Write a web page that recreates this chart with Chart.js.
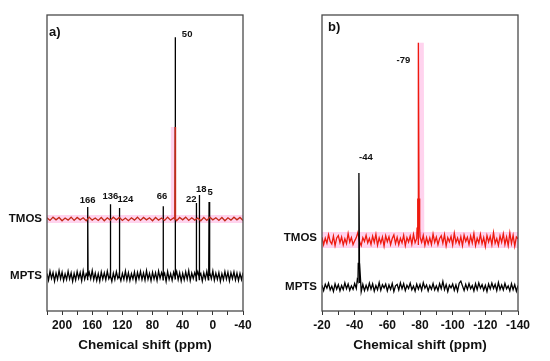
<!DOCTYPE html>
<html lang="en">
<head>
<meta charset="UTF-8">
<title>13C and 29Si NMR spectra</title>
<script src="https://cdn.jsdelivr.net/npm/chart.js"></script>
<style>
  html, body { margin: 0; padding: 0; background: #fff; }
  #wrap { position: relative; width: 550px; height: 361px; }
  canvas { position: absolute; top: 0; }
  #chartA { left: 0; }
  #chartB { left: 275px; }
</style>
</head>
<body>
<div id="wrap">
  <canvas id="chartA" width="275" height="361"></canvas>
  <canvas id="chartB" width="275" height="361"></canvas>
</div>
<script>
// ---------- panel a) : 13C ----------
const aRange = [-40, 220];
const aTickLabels = [200, 160, 120, 80, 40, 0, -40];
const aMptsBase = 11.8, aTmosBase = 31.1;
// MPTS baseline noise, 220 -> -40 ppm every 2 ppm
const aMptsNoise = [
  0.9,-1.4,1.6,-0.8,1.2,-1.7,1.0,-1.1,1.8,-0.9,
  1.3,-1.5,0.7,-1.2,1.6,-1.0,1.1,-1.8,0.9,-1.3,
  1.5,-0.8,1.2,-1.6,1.7,-1.1,0.8,-1.4,1.3,-0.9,
  1.9,-1.2,1.0,-1.5,0.8,-1.7,1.4,-1.0,1.1,-1.3,
  1.6,-0.9,1.2,-1.8,1.0,-1.2,1.5,-0.8,1.3,-1.6,
  0.9,-1.1,1.7,-1.3,1.1,-1.5,0.8,-1.0,1.4,-1.7,
  1.2,-0.9,1.6,-1.2,1.0,-1.4,1.8,-1.1,0.9,-1.6,
  1.3,-1.0,1.1,-1.5,1.7,-0.8,1.2,-1.3,1.0,-1.8,
  1.5,-1.1,0.8,-1.4,1.3,-0.9,1.6,-1.2,1.1,-1.7,
  0.9,-1.3,1.4,-1.0,1.8,-1.5,1.0,-0.8,1.2,-1.6,
  1.5,-1.2,0.9,-1.7,1.1,-1.0,1.6,-1.3,1.3,-0.9,
  1.7,-1.4,1.0,-1.1,1.2,-1.8,0.8,-1.2,1.5,-1.0,
  1.3,-1.6,1.1,-0.9,1.4,-1.3,1.0,-1.5,0.9,-1.2,
  1.2
];
// TMOS baseline noise, 220 -> -40 ppm every 4 ppm
const aTmosNoise = [
  0.4,-0.5,0.6,-0.3,0.5,-0.6,0.3,-0.4,0.6,-0.5,
  0.5,-0.3,0.4,-0.6,0.6,-0.4,0.3,-0.5,0.5,-0.6,
  0.4,-0.4,0.6,-0.3,0.5,-0.5,0.3,-0.6,0.4,-0.4,
  0.6,-0.5,0.5,-0.3,0.4,-0.6,0.5,-0.4,0.3,-0.5,
  0.6,-0.4,0.4,-0.6,0.5,-0.3,0.6,-0.5,0.4,-0.4,
  0.3,-0.6,0.5,-0.5,0.6,-0.3,0.4,-0.5,0.5,-0.6,
  0.4,-0.4,0.6,-0.3,0.5,-0.5
];
const aMptsPeakShift = [166, 136, 124, 66, 50, 22, 18, 5];
const aMptsPeakHeight = [23.3, 24.3, 23.0, 23.6, 80.7, 24.7, 27.4, 25.0];
const aMptsPeakLabels = ['166', '136', '124', '66', '50', '22', '18', '5'];
const aTmosPeakShift = [50];
const aTmosPeakHeight = [31.1];

// ---------- panel b) : 29Si ----------
const bRange = [-140, -20];
const bTickLabels = [-20, -40, -60, -80, -100, -120, -140];
const bMptsBase = 8.1, bTmosBase = 24.0;
// TMOS noise, -20 -> -140 ppm every 1 ppm
const bTmosNoise = [
  0.9,-1.6,0.6,-1.1,1.8,-0.5,-1.4,1.3,-1.9,0.7,
  1.5,-0.9,1.0,-1.7,0.4,-1.2,2.2,-0.7,0.8,-1.6,
  -0.3,0.8,2.6,-0.6,-1.9,0.8,-0.5,1.6,-1.0,0.5,
  -1.5,1.3,-0.8,1.9,-1.8,0.7,-1.1,1.0,-2.1,1.4,
  -0.6,1.1,-1.6,0.5,1.7,-1.2,0.9,-1.6,0.6,-1.0,
  1.6,-1.9,0.8,-0.7,1.3,-1.4,1.9,-0.9,0.5,-1.7,
  1.0,-0.8,1.5,-1.8,0.8,-1.3,0.7,-1.5,2.0,-0.8,
  1.0,-1.6,0.5,1.4,-1.1,1.8,-2.0,0.8,-0.6,1.2,
  -1.7,2.3,-0.9,0.7,-1.4,1.1,-1.9,1.6,-0.5,0.9,
  -1.5,1.3,-1.0,2.2,-1.9,0.6,-1.0,1.9,-1.3,0.8,
  -2.2,1.5,-0.7,1.2,-1.6,2.5,-1.1,0.5,-1.8,1.4,
  -0.8,2.1,-1.5,1.0,-1.9,2.4,-1.2,1.6,-2.1,1.0,
  0.4
];
// MPTS noise, -20 -> -140 ppm every 1 ppm
const bMptsNoise = [
  0.6,-1.2,0.9,-0.4,1.3,-1.0,0.3,-1.5,1.1,-0.7,
  0.8,-1.3,0.5,-0.9,1.4,-0.6,1.0,-1.1,0.4,-0.8,
  1.2,-0.5,2.0,1.4,-1.6,0.9,-1.2,0.6,-1.0,1.3,
  -0.7,1.1,-1.4,0.5,-0.9,1.5,-1.1,0.8,-0.3,1.0,
  -1.3,0.7,-0.8,1.2,-1.5,0.4,0.9,-1.0,1.4,-0.6,
  1.1,-1.2,0.6,-0.5,1.3,-0.9,0.3,-1.4,1.0,-0.7,
  0.9,-1.1,1.5,-0.4,0.7,-1.3,0.5,-0.8,1.2,-1.0,
  0.4,-1.2,1.1,-0.6,1.9,-0.9,0.8,-1.5,0.6,-0.3,
  1.0,-1.1,0.7,-1.4,1.3,2.0,0.4,-1.2,0.9,-0.8,
  1.2,-0.6,0.5,-1.3,1.1,-0.9,1.4,-0.4,0.8,-1.1,
  0.6,-1.5,1.0,-0.7,1.3,-0.5,0.9,-1.2,1.5,-0.8,
  0.7,-1.0,1.2,-0.6,0.4,-1.3,1.1,-0.9,0.8,-1.4,
  0.5
];
const bMptsPeakShift = [-41.6, -42.2, -42.6, -43.0, -43.6];
const bMptsPeakHeight = [2.5, 8, 38.5, 8, 2.5];
const bTmosPeakShift = [-78.2, -78.6, -79.0, -79.4, -79.8];
const bTmosPeakHeight = [4, 14, 66.6, 14, 4];

const FONT = '"Liberation Sans", Arial, sans-serif';
const GLOW = 'rgba(255,150,215,0.42)';
Chart.defaults.font.family = FONT;

// noise samples on a regular grid plus the peak points, sorted along the axis;
// foot > 0 adds baseline points right beside each peak so it stays a thin line
function trace(start, step, noise, base, peakX, peakH, foot) {
  const pts = noise.map((v, i) => ({ x: start - i * step, y: base + v }));
  peakX.forEach((p, i) => {
    pts.push({ x: p, y: base + peakH[i] });
    if (foot) pts.push({ x: p + foot, y: base }, { x: p - foot, y: base });
  });
  return pts.sort((p, q) => q.x - p.x);
}
// clean baseline for the pink highlight band
function band(range, base) {
  return [{ x: range[1], y: base }, { x: range[0], y: base }];
}
// highlight around one peak: base, top, base
function spike(x, w, base, h) {
  return [{ x: x + w, y: base }, { x: x, y: base + h }, { x: x - w, y: base }];
}

// frame, panel letter, row names and peak labels
const decor = {
  id: 'decor',
  afterDatasetsDraw(chart, args, opts) {
    const { ctx, chartArea: ca, scales: { x, y } } = chart;
    ctx.save();
    ctx.strokeStyle = '#4a4a4a';
    ctx.lineWidth = 1.3;
    ctx.strokeRect(ca.left, ca.top, ca.right - ca.left, ca.bottom - ca.top);
    ctx.fillStyle = '#111';
    ctx.textBaseline = 'middle';
    ctx.font = 'bold 13px ' + FONT;
    ctx.textAlign = 'left';
    ctx.fillText(opts.panel.text, ca.left + opts.panel.dx, ca.top + opts.panel.dy);
    ctx.font = 'bold 11.5px ' + FONT;
    ctx.textAlign = 'right';
    opts.rows.forEach(r => ctx.fillText(r.name, ca.left - 5, y.getPixelForValue(r.base) + (r.dy || 0)));
    ctx.font = 'bold 9.5px ' + FONT;
    ctx.textAlign = 'center';
    opts.peaks.forEach(p => ctx.fillText(p.text, x.getPixelForValue(p.x) + p.dx, y.getPixelForValue(p.y) + p.dy));
    ctx.restore();
  }
};

function makeChart(id, range, step, labels, datasets, decorOpts) {
  return new Chart(document.getElementById(id), {
    type: 'scatter',
    data: { datasets },
    options: {
      responsive: false,
      animation: false,
      devicePixelRatio: 1,
      layout: { padding: { left: 47, right: 32, top: 15, bottom: 0 } },
      plugins: { legend: { display: false }, tooltip: { enabled: false }, decor: decorOpts },
      elements: { point: { radius: 0 }, line: { tension: 0 } },
      scales: {
        x: {
          type: 'linear', reverse: true, min: range[0], max: range[1],
          afterFit: s => { s.height = 50; },
          grid: { drawOnChartArea: false, drawTicks: true, tickLength: 4, color: '#333' },
          border: { display: false },
          ticks: {
            stepSize: step, autoSkip: false, maxRotation: 0, padding: 3,
            color: '#111', font: { size: 12, weight: 'bold' },
            callback: v => labels.includes(v) ? String(v) : ''
          },
          title: {
            display: true, text: 'Chemical shift (ppm)', color: '#111',
            font: { size: 13.5, weight: 'bold' }, padding: { top: 2, bottom: 8 }
          }
        },
        y: { display: false, min: 0, max: 100 }
      }
    },
    plugins: [decor]
  });
}

const aMpts = trace(220, 2, aMptsNoise, aMptsBase, aMptsPeakShift, aMptsPeakHeight, 0.5);
const aTmos = trace(220, 4, aTmosNoise, aTmosBase, aTmosPeakShift, aTmosPeakHeight, 0.5);
const aLabelOffsets = [[0, -7], [0, -8], [6, -9], [-1, -10], [12, -3], [-5, -4], [2, -6], [1, -10]];
makeChart('chartA', aRange, 20, aTickLabels, [
  { data: aTmos, showLine: true, borderColor: '#c42a18', borderWidth: 1.3, order: 1 },
  { data: aMpts, showLine: true, borderColor: '#000', borderWidth: 1.3, order: 2 },
  { data: band(aRange, aTmosBase), showLine: true, borderColor: GLOW, borderWidth: 8, order: 3 },
  { data: spike(aTmosPeakShift[0] + 2.5, 0.3, aTmosBase, aTmosPeakHeight[0]), showLine: true,
    borderColor: GLOW, borderWidth: 5, borderCapStyle: 'butt', order: 4 }
], {
  panel: { text: 'a)', dx: 2, dy: 17 },
  rows: [{ name: 'TMOS', base: aTmosBase }, { name: 'MPTS', base: aMptsBase }],
  peaks: aMptsPeakShift.map((p, i) => ({
    text: aMptsPeakLabels[i], x: p, y: aMptsBase + aMptsPeakHeight[i],
    dx: aLabelOffsets[i][0], dy: aLabelOffsets[i][1]
  }))
});

const bMpts = trace(-20, 1, bMptsNoise, bMptsBase, bMptsPeakShift, bMptsPeakHeight, 0);
const bTmos = trace(-20, 1, bTmosNoise, bTmosBase, bTmosPeakShift, bTmosPeakHeight, 0);
makeChart('chartB', bRange, 10, bTickLabels, [
  { data: bMpts, showLine: true, borderColor: '#000', borderWidth: 1.3, order: 1 },
  { data: bTmos, showLine: true, borderColor: '#ee1a0e', borderWidth: 1.3, order: 2 },
  { data: band(bRange, bTmosBase), showLine: true, borderColor: GLOW, borderWidth: 16, order: 3 },
  { data: spike(-80.5, 0.3, bTmosBase, 66.6), showLine: true,
    borderColor: GLOW, borderWidth: 6, borderCapStyle: 'butt', order: 4 }
], {
  panel: { text: 'b)', dx: 6, dy: 12 },
  rows: [{ name: 'TMOS', base: bTmosBase, dy: -2 }, { name: 'MPTS', base: bMptsBase }],
  peaks: [
    { text: '-44', x: -42.6, y: bMptsBase + 38.5, dx: 7, dy: -16 },
    { text: '-79', x: -79.0, y: bTmosBase + 66.6, dx: -15, dy: 18 }
  ]
});
</script>
</body>
</html>
